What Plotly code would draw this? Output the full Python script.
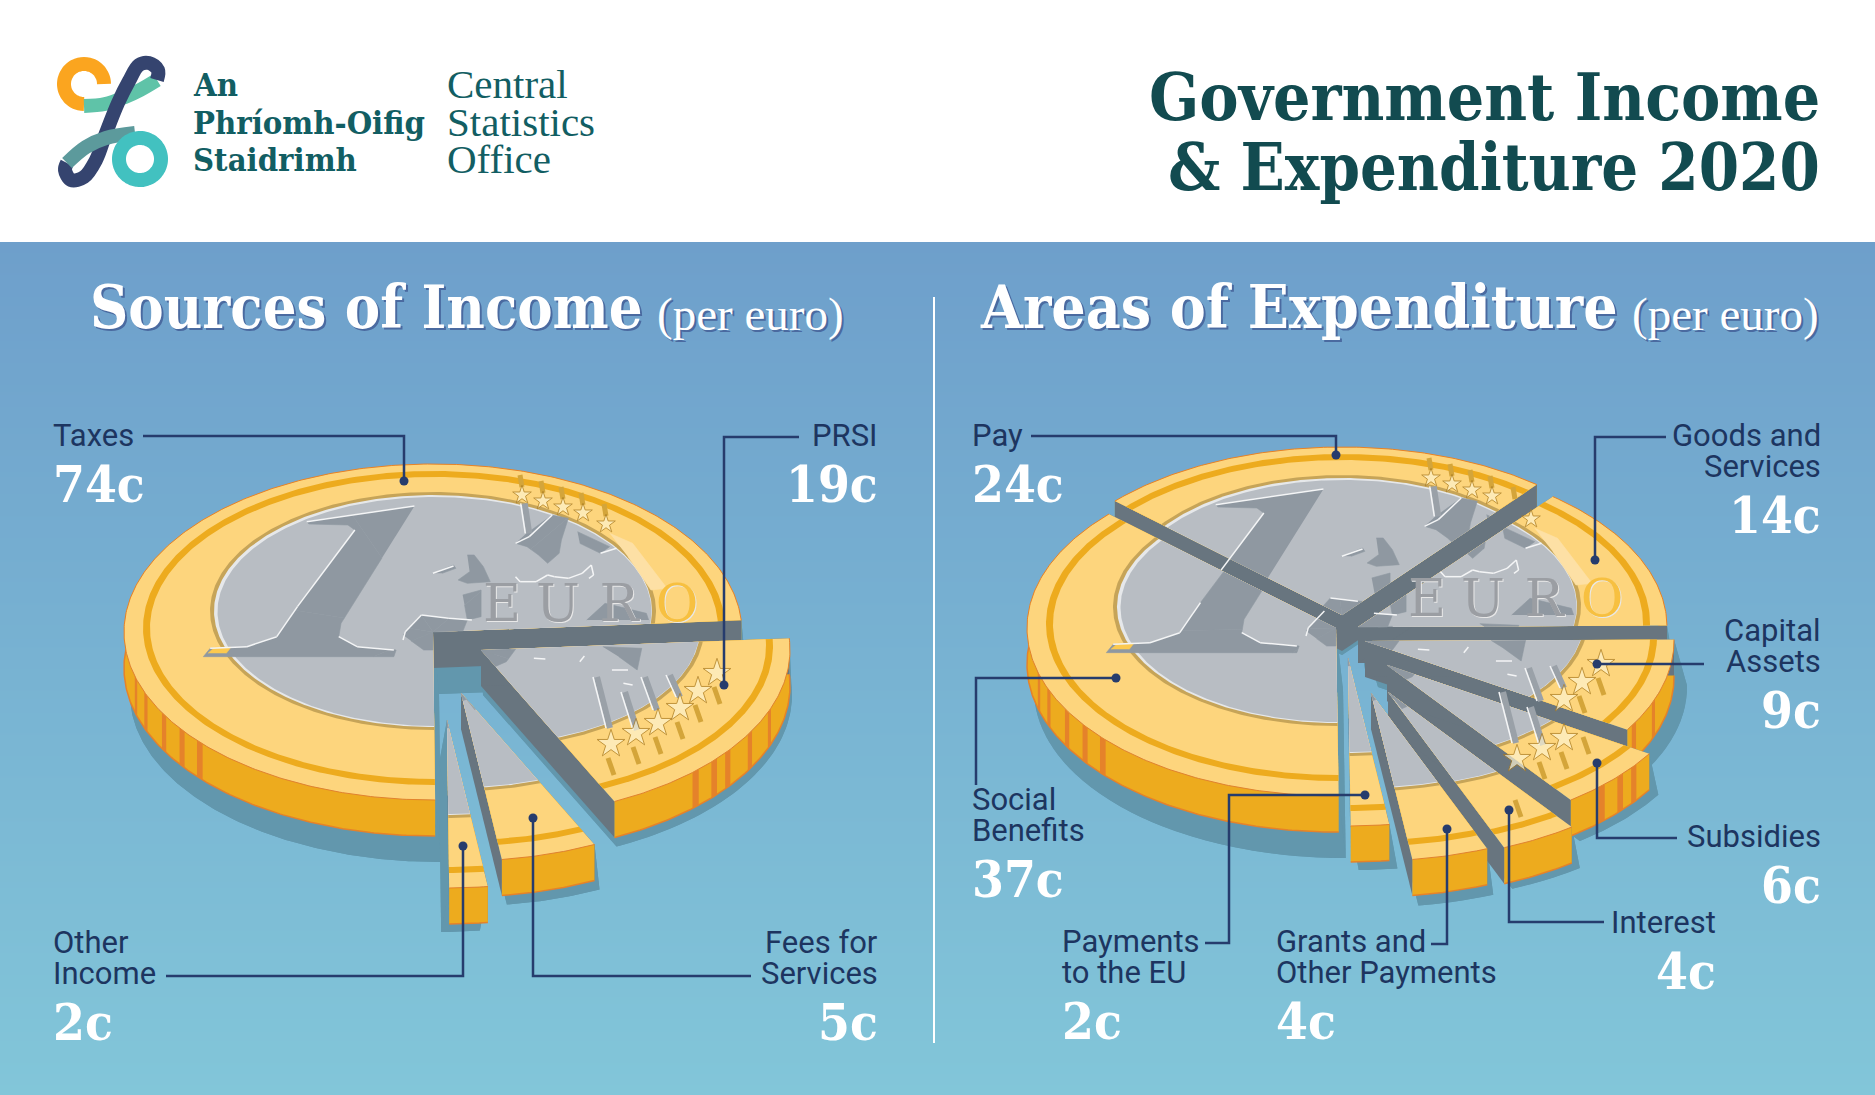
"""Government income and expenditure 2020 as two cut-up euro coins."""

from __future__ import annotations

import math

import numpy as np
import plotly.graph_objects as go

# ── Data ──────────────────────────────────────────────────────────────
# slices run anticlockwise from just above 3 o'clock
INCOME_LABELS = ["Taxes", "Other\nIncome", "Fees for\nServices", "PRSI"]
INCOME_VALUES = [74, 2, 5, 19]
EXPENDITURE_LABELS = ["Goods and\nServices", "Pay", "Social\nBenefits", "Payments\nto the EU",
                      "Grants and\nOther Payments", "Interest", "Subsidies", "Capital\nAssets"]
EXPENDITURE_VALUES = [14, 24, 37, 2, 4, 4, 6, 9]

TITLE_LINES = ["Government Income", "& Expenditure 2020"]
LOGO_IRISH = ["An", "Phríomh-Oifig", "Staidrimh"]
LOGO_ENGLISH = ["Central", "Statistics", "Office"]

# ── Palette ───────────────────────────────────────────────────────────
FACE = "#fdd57d"
GOLD = "#edab1e"
ORANGE = "#e5822a"
WALL = "#68757f"
SILVER = "#b8bdc3"
SILVER_DARK = "#8f98a1"
RIM = "#c6a458"
SHADOW = "#6297ad"
NAVY = "#263c6d"
TEXT_NAVY = "#1d3560"
DARK_TEAL = "#124b50"
LOGO_TEAL = "#125e63"

SLAB = "DejaVu Serif Condensed"
SANS = "Roboto"

# ── Coin geometry (page pixels) ───────────────────────────────────────
RX, RY, DEPTH = 309, 168, 36
INCOME_CENTRE = (433, 632)
EXPENDITURE_CENTRE = (1336, 628)
INCOME_START, EXPENDITURE_START = 4.0, 0.5
# per slice, same order as the data: explode offset, shadow offset
INCOME_OFFSETS = [(0, 0), (14, 88), (28, 61), (48, 18)]
INCOME_SHADOWS = [(6, 26), (-8, 8), (5, 9), (2, 9)]
INCOME_ORDER = [0, 3, 2, 1]
EXPENDITURE_OFFSETS = [(22, -1), (6, -13), (0, 0), (12, 30), (35, 65), (52, 64), (51, 37), (29, 13)]
EXPENDITURE_SHADOWS = [(8, 12), (0, 4), (7, 26), (8, 8), (6, 10), (8, 5), (9, 5), (13, 10)]
EXPENDITURE_ORDER = [1, 2, 0, 7, 6, 5, 4, 3]
STRIPE_ANGLES = [196, 201.7, 209.5, 215.7, 221, 314, 319, 323, 330.5, 339]


def crop(points, shift=(0, 0)):
    """Crop pixels of the traced coin (2.178x by 3x crop at 100,440) to coin coordinates."""
    return [(100 + x / 2.178 - INCOME_CENTRE[0] - shift[0],
             440 + y / 3 - INCOME_CENTRE[1] - shift[1]) for x, y in points]


LOWER = (48, 18)  # the lower right of the coin was traced on the PRSI slice
ONE = crop([(685, 198), (450, 245), (455, 252), (540, 255), (555, 270), (430, 500), (385, 590),
            (320, 620), (240, 625), (225, 650), (640, 650), (645, 630), (560, 620), (520, 590),
            (525, 550)])
ONE_FOOT = crop([(235, 640), (250, 622), (285, 622), (275, 640)])
MAP_BLOBS = [
    crop([(925, 285), (985, 225), (1020, 235), (1005, 300), (1000, 340), (975, 370), (955, 345),
          (930, 320), (905, 310)]),
    crop([(1040, 275), (1110, 320), (1090, 340), (1045, 310)]),
    crop([(800, 345), (815, 345), (835, 380), (850, 425), (800, 430), (780, 420), (805, 395)]),
    crop([(725, 400), (770, 375), (775, 385), (745, 400)]),
    crop([(660, 585), (700, 525), (800, 540), (790, 575), (725, 600), (725, 630), (705, 630)]),
    crop([(790, 465), (830, 450), (830, 530), (800, 540)]),
    crop([(1060, 540), (1100, 490), (1190, 520), (1195, 540)]),
    crop([(832, 632), (905, 628), (885, 665), (860, 680)], LOWER),
    crop([(1095, 620), (1180, 625), (1170, 690), (1130, 650)], LOWER),
]
CREAM_BAND = crop([(1110, 280), (1160, 310), (1235, 445), (1200, 450), (1150, 350)])
PILLARS = [crop([(925, 190), (935, 280)]),
           [(116, 27), (129, 78)], [(144, 42), (156, 80)], [(164, 27), (176, 60)], [(189, 25), (199, 47)]]
WHITE_LINES = [
    crop([(450, 245), (685, 198)]),
    crop([(555, 270), (430, 500), (385, 590), (320, 620), (240, 625)]),
    crop([(520, 590), (560, 620), (640, 630)]),
    crop([(905, 410), (915, 425), (950, 425), (975, 405), (990, 410), (1020, 415), (1050, 400),
          (1070, 375), (1075, 405), (1065, 415)]),
    crop([(660, 600), (665, 575), (700, 525), (760, 535), (810, 540)]),
    crop([(905, 310), (935, 290), (985, 225)]),
    crop([(1090, 340), (1125, 325)]),
    crop([(725, 400), (770, 378)]),
    crop([(945, 655), (970, 657)], LOWER),
    crop([(1045, 665), (1055, 648)], LOWER),
    crop([(1115, 690), (1150, 690)], LOWER),
    crop([(1140, 730), (1160, 735)], LOWER),
] + [[(x0 - 4, y0), (x1 - 4, y1)] for (x0, y0), (x1, y1) in PILLARS]
STARS = [(89, -137), (110, -131), (130, -125), (150, -119), (173, -108),
         (130, 94), (155, 83), (177, 73), (199, 58), (217, 41), (236, 23)]
STAR_BARS = [[(x - 3, y + 14), (x + 3, y + 31)] for x, y in STARS[5:]] + [
    [(x - 2, y - 20), (x, y - 8)] for x, y in STARS[:5]]
EURO_LETTERS = [("E", 69, -24, "#9b9ea3"), ("U", 125, -24, "#9b9ea3"),
                ("R", 186, -24, "#9b9ea3"), ("O", 244, -24, "#f7c040")]


def direction(angle):
    rad = math.radians(angle)
    return math.cos(rad) * RX, -math.sin(rad) * RY


def rim_point(x0, y0, angle, scale=1.0):
    return x0 + math.cos(math.radians(angle)) * RX * scale, y0 - math.sin(math.radians(angle)) * RY * scale


def wedge(a0, a1, ex=0.0, ey=0.0, rx=RX, ry=RY):
    """Outline of an ellipse centred (ex, ey) as seen from the apex (0, 0), between two angles."""
    pts = [(0.0, 0.0)]
    for angle in np.linspace(a0, a1, max(4, int((a1 - a0) * 1.5))):
        dx, dy = direction(angle)
        a = (dx / rx) ** 2 + (dy / ry) ** 2
        b = -2 * (ex * dx / rx ** 2 + ey * dy / ry ** 2)
        c = (ex / rx) ** 2 + (ey / ry) ** 2 - 1
        t = (-b + math.sqrt(b * b - 4 * a * c)) / (2 * a)
        pts.append((t * dx, t * dy))
    return pts


def clip_halfplane(points, d, sign):
    out = []
    for i, p in enumerate(points):
        q = points[(i + 1) % len(points)]
        cp = sign * (d[0] * p[1] - d[1] * p[0])
        cq = sign * (d[0] * q[1] - d[1] * q[0])
        if cp >= 0:
            out.append(p)
        if (cp >= 0) != (cq >= 0):
            t = cp / (cp - cq)
            out.append((p[0] + t * (q[0] - p[0]), p[1] + t * (q[1] - p[1])))
    return out


def clip_to_slice(points, a0, a1):
    """Cut artwork to a slice, in sub-wedges because a slice can be wider than 180 degrees."""
    parts = []
    n = max(1, math.ceil((a1 - a0) / 60))
    edges = np.linspace(a0, a1, n + 1)
    for lo, hi in zip(edges[:-1], edges[1:]):
        part = clip_halfplane(points, direction(lo), -1)
        if part:
            part = clip_halfplane(part, direction(hi), 1)
        if len(part) > 2:
            parts.append(part)
    return parts


def in_slice(point, a0, a1):
    angle = math.degrees(math.atan2(-point[1] / RY, point[0] / RX))
    while angle < a0:
        angle += 360
    return angle < a1


def add_polygon(fig, points, color, dx=0.0, dy=0.0, seam=0):
    fig.add_trace(go.Scatter(
        x=[p[0] + dx for p in points], y=[p[1] + dy for p in points],
        mode="lines", fill="toself", fillcolor=color, line=dict(width=seam, color=color),
        hoverinfo="skip", showlegend=False,
    ))


def add_segments(fig, lines, color, width, dx, dy, a0, a1):
    xs, ys = [], []
    for line in lines:
        for p, q in zip(line[:-1], line[1:]):
            if in_slice(((p[0] + q[0]) / 2, (p[1] + q[1]) / 2), a0, a1):
                xs += [p[0] + dx, q[0] + dx, None]
                ys += [p[1] + dy, q[1] + dy, None]
    if xs:
        fig.add_trace(go.Scatter(x=xs, y=ys, mode="lines", line=dict(color=color, width=width),
                                 hoverinfo="skip", showlegend=False))


def arc(a0, a1):
    return [rim_point(0, 0, a) for a in np.linspace(a0, a1, max(4, int((a1 - a0) * 1.5)))]


def add_shadow(fig, ox, oy, a0, a1, shadow):
    sx, sy = shadow[0], DEPTH + shadow[1]
    rim = arc(a0, a1)
    add_polygon(fig, wedge(a0, a1), SHADOW, ox + sx, oy + sy)
    for edge in (rim[0], rim[-1]):
        add_polygon(fig, [(0, 0), edge, (edge[0] + sx, edge[1] + sy), (sx, sy)], SHADOW, ox, oy)
    add_polygon(fig, rim + [(x + sx, y + sy) for x, y in rim[::-1]], SHADOW, ox, oy)


def add_wall(fig, edge, ox, oy):
    add_polygon(fig, [(0, 0), edge, (edge[0], edge[1] + DEPTH), (0, DEPTH)], WALL, ox, oy)


def add_slice(fig, ox, oy, a0, a1):
    rim = arc(a0, a1)
    # a cut face on the back half shows past the corner of the slice, so it goes over the rim band
    front = [(a, e) for a, e in ((a0, rim[0]), (a1, rim[-1])) if math.sin(math.radians(a)) <= 0]
    back = [(a, e) for a, e in ((a0, rim[0]), (a1, rim[-1])) if math.sin(math.radians(a)) > 0]
    for _, edge in front:
        add_wall(fig, edge, ox, oy)
    add_polygon(fig, rim + [(x, y + DEPTH) for x, y in rim[::-1]], GOLD, ox, oy)
    for stripe in STRIPE_ANGLES:
        for a in (stripe, stripe + 360, stripe - 360):
            if a0 < a - 0.8 and a + 0.8 < a1:
                p, q = rim_point(0, 0, a - 0.8), rim_point(0, 0, a + 0.8)
                add_polygon(fig, [p, q, (q[0], q[1] + DEPTH), (p[0], p[1] + DEPTH)], ORANGE, ox, oy)
    fig.add_trace(go.Scatter(
        x=[x + ox for x, _ in rim], y=[y + oy + DEPTH for _, y in rim],
        mode="lines", line=dict(color=ORANGE, width=1.5), hoverinfo="skip", showlegend=False))
    for _, edge in back:
        add_wall(fig, edge, ox, oy)

    # top of the coin, outer layers first
    add_polygon(fig, wedge(a0, a1), FACE, ox, oy)
    add_polygon(fig, wedge(a0, a1, 1, -4, 291, 157), GOLD, ox, oy)
    add_polygon(fig, wedge(a0, a1, 1, -4, 284, 151), FACE, ox, oy)
    add_polygon(fig, wedge(a0, a1, 0, -21, 223, 119), RIM, ox, oy)
    add_polygon(fig, wedge(a0, a1, 0, -21, 219, 116), "#e6e8ea", ox, oy)
    add_polygon(fig, wedge(a0, a1, 1.5, -20.5, 217, 114.5), SILVER, ox, oy)
    fig.add_trace(go.Scatter(
        x=[x + ox for x, _ in rim], y=[y + oy for _, y in rim],
        mode="lines", line=dict(color=ORANGE, width=1), hoverinfo="skip", showlegend=False))

    for color, art in [(SILVER_DARK, ONE), ("#fcc94f", ONE_FOOT), ("#fde0a5", CREAM_BAND)] + \
            [(SILVER_DARK, blob) for blob in MAP_BLOBS]:
        for part in clip_to_slice(art, a0, a1):
            add_polygon(fig, part, color, ox, oy, seam=0.6)
    add_segments(fig, PILLARS, "#9aa1a8", 6, ox, oy, a0, a1)
    add_segments(fig, WHITE_LINES, "#f4f5f6", 1.5, ox, oy, a0, a1)
    add_segments(fig, STAR_BARS, "#d4a53a", 5, ox, oy, a0, a1)

    stars = [p for p in STARS if in_slice(p, a0, a1)]
    if stars:
        fig.add_trace(go.Scatter(
            x=[p[0] + ox for p in stars], y=[p[1] + oy for p in stars], mode="markers",
            marker=dict(symbol="star", size=[14 if p[1] < 0 else 21 for p in stars],
                        color="#fdf3cf", line=dict(color="#a87a20", width=1)),
            hoverinfo="skip", showlegend=False))
    letters = [l for l in EURO_LETTERS if in_slice(l[1:3], a0, a1)]
    if letters:
        fig.add_trace(go.Scatter(
            x=[l[1] + ox for l in letters], y=[l[2] + oy for l in letters], mode="text",
            text=[l[0] for l in letters],
            textfont=dict(family="DejaVu Serif", size=52, color=[l[3] for l in letters],
                          shadow="1px 1px 0 #e8e8e8"),
            hoverinfo="skip", showlegend=False))


def add_coin(fig, centre, start, values, offsets, shadows, order):
    angles = [start]
    for value in values:
        angles.append(angles[-1] + value * 3.6)
    for i in order:
        add_shadow(fig, centre[0] + offsets[i][0], centre[1] + offsets[i][1],
                   angles[i], angles[i + 1], shadows[i])
    for i in order:
        add_slice(fig, centre[0] + offsets[i][0], centre[1] + offsets[i][1], angles[i], angles[i + 1])


def add_text(fig, x, y, text, size, color, family, anchor="left", weight="normal", shadow=None):
    # annotations pad their text by about 3px
    x = x - 3 if anchor == "left" else x + 3
    fig.add_annotation(x=x, y=y, text=text, showarrow=False, xanchor=anchor, yanchor="middle",
                       font=dict(size=size, color=color, family=family, weight=weight,
                                 shadow=shadow or "none"))


def add_label(fig, x, y, label, value, anchor="left"):
    """Category text, one annotation per line, with the amount underneath."""
    lines = label.split("\n")
    for n, line in enumerate(lines):
        add_text(fig, x, y + n * 31, line, 31, TEXT_NAVY, SANS, anchor)
    add_text(fig, x, y + (len(lines) - 1) * 31 + 49, f"{value}c", 51, "white", SLAB, anchor, "bold")


def add_leader(fig, xs, ys):
    fig.add_trace(go.Scatter(x=xs, y=ys, mode="lines", line=dict(color=NAVY, width=2.5),
                             hoverinfo="skip", showlegend=False))
    fig.add_trace(go.Scatter(x=xs[-1:], y=ys[-1:], mode="markers", marker=dict(color=NAVY, size=9),
                             hoverinfo="skip", showlegend=False))


def add_logo(fig):
    t = np.radians(np.linspace(0, 270, 40))
    logo = [
        ("#fba51f", 84 + 20 * np.cos(t), 84 - 20 * np.sin(t)),
        ("#5fc3a8", [84, 105, 125, 140, 157], [106, 104, 97, 90, 80]),
        ("#35446f", [157, 158, 149, 139, 129, 118, 106, 96, 84, 71, 65, 67],
         [80, 70, 63, 65, 81, 103, 133, 160, 177, 180, 170, 163]),
        ("#5c9a9c", [67, 86, 106, 135], [163, 147, 138, 133]),
    ]
    for color, xs, ys in logo:
        fig.add_trace(go.Scatter(x=list(xs), y=list(ys), mode="lines",
                                 line=dict(color=color, width=14, shape="spline", simplify=False),
                                 hoverinfo="skip", showlegend=False))
    t = np.radians(np.linspace(0, 360, 90))
    fig.add_trace(go.Scatter(x=140 + 21 * np.cos(t), y=159 + 21 * np.sin(t), mode="lines",
                             line=dict(color="#42c1c0", width=14, shape="spline", simplify=False),
                             hoverinfo="skip", showlegend=False))
    for n, y in enumerate([84, 122, 159]):
        add_text(fig, 194, y, LOGO_IRISH[n], 32.5, LOGO_TEAL, SLAB, weight="bold")
        add_text(fig, 448, y, LOGO_ENGLISH[n], 41, LOGO_TEAL, "Liberation Serif")


def build_figure() -> go.Figure:
    fig = go.Figure()
    fig.add_trace(go.Heatmap(
        x=[0, 1875], y=[242, 1095], z=[[0, 0], [1, 1]], zsmooth="best", showscale=False,
        colorscale=[[0, "#6e9fcb"], [1, "#82c6d9"]], hoverinfo="skip",
    ))
    # white header band over the top of the gradient
    add_polygon(fig, [(0, 0), (1875, 0), (1875, 242), (0, 242)], "white")
    add_logo(fig)
    add_text(fig, 1819, 96, TITLE_LINES[0], 65.5, DARK_TEAL, SLAB, "right", "bold")
    add_text(fig, 1819, 167, TITLE_LINES[1], 64.5, DARK_TEAL, SLAB, "right", "bold")

    heading_shadow = "2px 2px 0 #4a6aa0"
    add_text(fig, 91, 307, "Sources of Income", 59, "white", SLAB, "left", "bold", heading_shadow)
    add_text(fig, 658, 314, "(per euro)", 47, "white", "Liberation Serif", "left", shadow=heading_shadow)
    add_text(fig, 981, 307, "Areas of Expenditure", 60, "white", SLAB, "left", "bold", heading_shadow)
    add_text(fig, 1633, 314, "(per euro)", 47, "white", "Liberation Serif", "left", shadow=heading_shadow)
    fig.add_trace(go.Scatter(x=[934, 934], y=[297, 1043], mode="lines",
                             line=dict(color="white", width=2), hoverinfo="skip", showlegend=False))

    add_coin(fig, INCOME_CENTRE, INCOME_START, INCOME_VALUES, INCOME_OFFSETS, INCOME_SHADOWS, INCOME_ORDER)
    add_coin(fig, EXPENDITURE_CENTRE, EXPENDITURE_START, EXPENDITURE_VALUES,
             EXPENDITURE_OFFSETS, EXPENDITURE_SHADOWS, EXPENDITURE_ORDER)

    # income call-outs
    add_label(fig, 54, 435, INCOME_LABELS[0], INCOME_VALUES[0])
    add_leader(fig, [143, 404, 404], [436, 436, 481])
    add_label(fig, 54, 942, INCOME_LABELS[1], INCOME_VALUES[1])
    add_leader(fig, [166, 463, 463], [976, 976, 846])
    add_label(fig, 877, 942, INCOME_LABELS[2], INCOME_VALUES[2], "right")
    add_leader(fig, [751, 533, 533], [976, 976, 818])
    add_label(fig, 877, 435, INCOME_LABELS[3], INCOME_VALUES[3], "right")
    add_leader(fig, [799, 724, 724], [437, 437, 685])

    # expenditure call-outs
    add_label(fig, 1820, 435, EXPENDITURE_LABELS[0], EXPENDITURE_VALUES[0], "right")
    add_leader(fig, [1666, 1595, 1595], [437, 437, 560])
    add_label(fig, 973, 435, EXPENDITURE_LABELS[1], EXPENDITURE_VALUES[1])
    add_leader(fig, [1031, 1336, 1336], [436, 436, 455])
    add_label(fig, 973, 799, EXPENDITURE_LABELS[2], EXPENDITURE_VALUES[2])
    add_leader(fig, [976, 976, 1116], [785, 678, 678])
    add_label(fig, 1063, 941, EXPENDITURE_LABELS[3], EXPENDITURE_VALUES[3])
    add_leader(fig, [1205, 1229, 1229, 1365], [943, 943, 795, 795])
    add_label(fig, 1277, 941, EXPENDITURE_LABELS[4], EXPENDITURE_VALUES[4])
    add_leader(fig, [1431, 1447, 1447], [944, 944, 829])
    add_label(fig, 1715, 922, EXPENDITURE_LABELS[5], EXPENDITURE_VALUES[5], "right")
    add_leader(fig, [1604, 1509, 1509], [922, 922, 810])
    add_label(fig, 1820, 836, EXPENDITURE_LABELS[6], EXPENDITURE_VALUES[6], "right")
    add_leader(fig, [1677, 1597, 1597], [838, 838, 763])
    add_label(fig, 1820, 630, EXPENDITURE_LABELS[7], EXPENDITURE_VALUES[7], "right")
    add_leader(fig, [1704, 1597], [664, 664])

    fig.update_xaxes(range=[0, 1875], visible=False, fixedrange=True)
    fig.update_yaxes(range=[1095, 0], visible=False, fixedrange=True)
    fig.update_layout(
        width=1875, height=1095,
        margin=dict(l=0, r=0, t=0, b=0),
        paper_bgcolor="white", plot_bgcolor="white",
        showlegend=False,
    )
    return fig


def main() -> None:
    fig = build_figure()
    fig.write_html("out.html", config=dict(displayModeBar=False),
                   post_script="document.body.style.margin='0';")


if __name__ == "__main__":
    main()
